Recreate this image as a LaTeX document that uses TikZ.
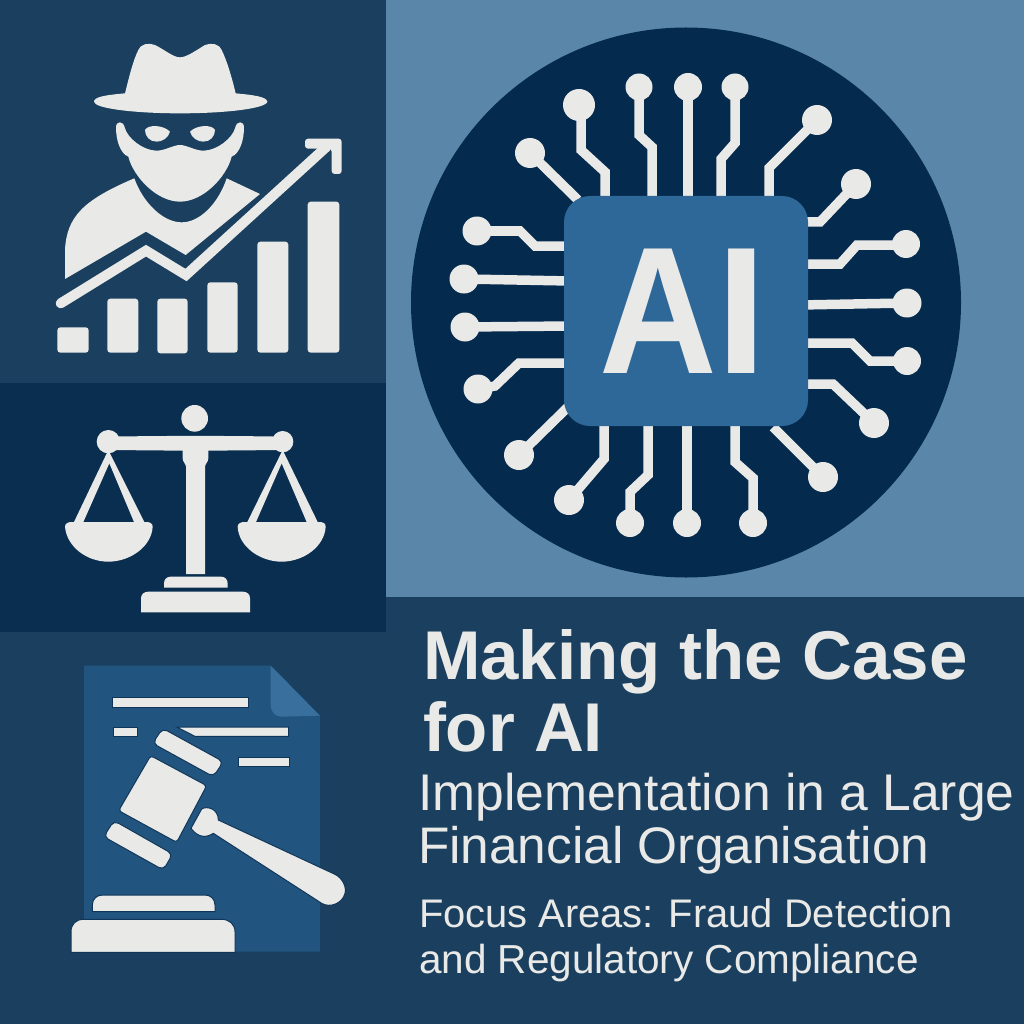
\documentclass[tikz,border=0pt]{standalone}
\usepackage{fontspec}
\usepackage{graphicx}
\setmainfont{Liberation Sans}
\definecolor{panelA}{HTML}{1A3F5F}
\definecolor{panelB}{HTML}{0A2E50}
\definecolor{panelL}{HTML}{5A87A9}
\definecolor{disc}{HTML}{042A4D}
\definecolor{chipc}{HTML}{2E6899}
\definecolor{docc}{HTML}{21557F}
\definecolor{foldc}{HTML}{386F9C}
\definecolor{ink}{HTML}{E9E9E7}
\definecolor{halo}{HTML}{0F3558}
\tikzset{
  whitefill/.style={fill=ink,draw=none},
  bar/.style={fill=ink,rounded corners=3},
  trace/.style={draw=ink,line width=9.5pt,line join=miter},
  pad/.style={fill=ink},
  gav/.style={fill=ink,draw=halo,line width=1pt,rounded corners=3},
  docline/.style={fill=ink,draw=halo,line width=1pt},
  title/.style={anchor=base west,text=ink,inner sep=0pt,outer sep=0pt},
}
\begin{document}
\begin{tikzpicture}[x=1pt,y=-1pt]
\useasboundingbox (0,0) rectangle (1024,1024);
\fill[panelA] (0,0) rectangle (1024,1024);
\fill[panelB] (0,383) rectangle (386,632);
\fill[panelL] (386,0) rectangle (1024,597);
% disc and chip
\fill[disc] (686,302.5) circle (275);
\foreach \px/\py/\r/\pth in {
 579/105/16/{(581,105)--(581,150)--(605,172)--(605,200)},
 639/87/13.5/{(639,87)--(639,135)--(652,147)--(652,200)},
 688/87/14/{(688,87)--(688,200)},
 735/87/13.5/{(735,87)--(735,143)--(721,159)--(721,200)},
 817/120/15/{(817,120)--(769,168)--(769,200)},
 856/184/15/{(856,184)--(820,222)--(800,222)},
 906/244/14/{(906,245)--(857,245)--(840,264)--(800,264)},
 907/303/14.5/{(907,303)--(800,305)},
 907/361/14/{(907,361)--(870,361)--(852,343)--(800,343)},
 874/423/15/{(874,423)--(833,384)--(800,384)},
 823/477/15/{(823,477)--(773,427)},
 753/523/14/{(753,523)--(753,478)--(735,462)--(735,420)},
 687/523/14/{(687,523)--(687,420)},
 630/523/14/{(630,523)--(630,492)--(648,475)--(648,420)},
 569/500/15/{(569,500)--(604,459)--(604,420)},
 519/455/15/{(519,455)--(570,405)},
 478/389/14.5/{(478,389)--(495,386)--(519,363)--(570,363)},
 465/327/14.5/{(465,327)--(570,326)},
 464/279/14.5/{(464,279)--(570,281)},
 477/231/14.5/{(477,231)--(520,231)--(535,246)--(570,246)},
 530/153/15/{(530,153)--(578,200)}}{
  \draw[trace] \pth;
  \fill[pad] (\px,\py) circle (\r);
}
\node[fill=chipc,rounded corners=26,minimum width=244pt,minimum height=230pt,inner sep=0pt] (chip) at (686,311) {};
\node[title,font=\fontsize{181}{181}\selectfont\bfseries] (ailabel) at (599,373) {\scalebox{0.9}[1]{A}I};
% spy and chart
\begin{scope}[shift={(40,30)},scale=1/3]
\fill[whitefill] (255,190) .. controls (270,130) and (280,90) .. (295,60) .. controls (305,40) and (325,38) .. (345,45) .. controls (375,60) and (400,82) .. (420,82) .. controls (440,82) and (470,60) .. (495,45) .. controls (515,38) and (535,40) .. (545,60) .. controls (560,90) and (575,140) .. (587,190) .. controls (640,195) and (680,200) .. (682,215) .. controls (680,235) and (560,250) .. (420,250) .. controls (280,250) and (162,235) .. (162,215) .. controls (162,200) and (200,195) .. (255,190) -- cycle;
\fill[whitefill] (228,292) .. controls (228,272) and (250,272) .. (254,292) .. controls (262,325) and (310,362) .. (350,362) .. controls (375,362) and (400,345) .. (420,345) .. controls (440,345) and (465,362) .. (490,362) .. controls (530,362) and (578,325) .. (586,292) .. controls (590,272) and (612,272) .. (612,292) .. controls (612,330) and (600,370) .. (575,380) .. controls (560,440) and (490,515) .. (420,515) .. controls (350,515) and (280,440) .. (265,380) .. controls (240,370) and (228,330) .. (228,292) -- cycle;
\fill[whitefill] (283,445) .. controls (310,520) and (370,577) .. (425,577) .. controls (480,577) and (535,520) .. (560,445) -- (660,492) -- (437,675) -- (318,605) -- (75,747) -- (75,660) .. controls (80,560) and (130,510) .. (283,445) -- cycle;
\fill[whitefill] (315,300) .. controls (325,282) and (370,285) .. (390,305) .. controls (385,325) and (365,335) .. (350,335) .. controls (330,335) and (315,320) .. (315,300) -- cycle;
\fill[whitefill] (525,300) .. controls (515,282) and (470,285) .. (450,305) .. controls (455,325) and (475,335) .. (490,335) .. controls (510,335) and (525,320) .. (525,300) -- cycle;
\draw[draw=ink,line width=10pt,line cap=round,line join=miter] (62,820) -- (318,662) -- (438,735) -- (860,350);
\fill[whitefill,rounded corners=3] (795,326) -- (905,326) -- (905,432) -- (875,432) -- (875,356) -- (795,356) -- cycle;
\fill[bar] (52,892) rectangle (146,968);
\fill[bar] (202,806) rectangle (295,968);
\fill[bar] (352,806) rectangle (443,970);
\fill[bar] (502,757) rectangle (593,968);
\fill[bar] (652,635) rectangle (745,968);
\fill[bar] (803,515) rectangle (898,968);
\end{scope}
% scales
\begin{scope}[shift={(50,395)},scale=1/3]
\fill[whitefill] (175,125) .. controls (350,122) and (520,122) .. (700,125) -- (700,165) -- (475,167) -- (475,190) .. controls (475,200) and (465,208) .. (465,215) -- (465,537) -- (408,537) -- (408,215) .. controls (408,208) and (398,200) .. (398,190) -- (398,167) -- (175,165) -- cycle;
\fill[ink] (434,70) circle (40);
\fill[ink] (175,140) circle (35);
\fill[ink] (698,140) circle (32);
\fill[whitefill,even odd rule] (175,165) -- (70,385) -- (285,385) -- cycle (178,205) -- (100,381) -- (252,381) -- cycle;
\fill[whitefill,even odd rule] (698,165) -- (590,385) -- (805,385) -- cycle (695,205) -- (618,381) -- (770,381) -- cycle;
\fill[whitefill] (45,395) .. controls (45,385) and (55,381) .. (65,381) -- (288,381) .. controls (300,381) and (308,385) .. (308,395) .. controls (305,455) and (240,500) .. (175,500) .. controls (110,500) and (50,455) .. (45,395) -- cycle;
\fill[whitefill] (563,395) .. controls (563,385) and (573,381) .. (583,381) -- (807,381) .. controls (820,381) and (827,385) .. (827,395) .. controls (824,455) and (760,500) .. (695,500) .. controls (630,500) and (566,455) .. (563,395) -- cycle;
\fill[whitefill] (342,578) -- (342,566) .. controls (342,553) and (350,545) .. (362,545) -- (513,545) .. controls (525,545) and (533,553) .. (533,566) -- (533,578) -- cycle;
\fill[whitefill] (273,652) -- (273,610) .. controls (273,598) and (282,590) .. (295,590) -- (578,590) .. controls (592,590) and (600,598) .. (600,610) -- (600,652) -- cycle;
\end{scope}
% document and gavel
\begin{scope}[shift={(60,655)},scale=1/3]
\fill[docc] (72,32) -- (632,32) -- (780,182) -- (780,890) -- (72,890) -- cycle;
\fill[foldc] (632,32) -- (780,182) -- (665,185) .. controls (645,185) and (632,170) .. (632,150) -- cycle;
\filldraw[docline] (158,128) rectangle (564,156);
\filldraw[docline] (160,216) rectangle (232,244);
\filldraw[docline] (350,216) -- (686,216) -- (686,244) -- (405,244) -- cycle;
\filldraw[docline] (534,306) rectangle (688,334);
\filldraw[gav] (272,302) -- (440,392) -- (350,562) -- (176,467) -- cycle;
\filldraw[gav,rounded corners=5] (278,265) -- (308,220) -- (490,320) -- (460,365) -- cycle;
\filldraw[gav,rounded corners=5] (131,545) -- (162,497) -- (338,597) -- (310,645) -- cycle;
\filldraw[fill=ink,draw=halo,line width=1pt] (393,520) -- (425,462) .. controls (440,452) and (475,460) .. (475,495) -- (825,658) .. controls (850,670) and (860,700) .. (855,715) .. controls (848,745) and (810,760) .. (785,745) -- (460,535) .. controls (440,548) and (415,550) .. (393,520) -- cycle;
\filldraw[fill=ink,draw=halo,line width=1pt] (97,770) -- (97,750) .. controls (97,732) and (110,720) .. (128,720) -- (435,720) .. controls (452,720) and (465,732) .. (465,750) -- (465,770) -- cycle;
\filldraw[fill=ink,draw=halo,line width=1pt] (33,892) -- (33,830) .. controls (33,808) and (48,793) .. (70,793) -- (485,793) .. controls (508,793) and (525,808) .. (525,830) -- (525,892) -- cycle;
\end{scope}
% text
\node[title,font=\fontsize{69}{69}\selectfont\bfseries] (t1) at (423,679) {Making the Case};
\node[title,font=\fontsize{69}{69}\selectfont\bfseries] (t2) at (423,751) {for AI};
\node[title,font=\fontsize{51.6}{52}\selectfont] (t3) at (418,810) {Implementation in a Large};
\node[title,font=\fontsize{51.4}{52}\selectfont] (t4) at (418,863) {Financial Organisation};
\node[title,font=\fontsize{39.9}{40}\selectfont] (t5) at (419,927) {Focus Areas: Fraud Detection};
\node[title,font=\fontsize{40.5}{41}\selectfont] (t6) at (419,973) {and Regulatory Compliance};
\end{tikzpicture}
\end{document}
